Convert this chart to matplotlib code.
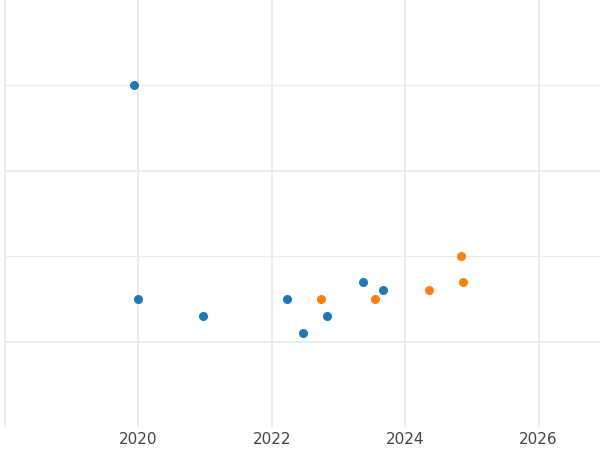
import matplotlib
matplotlib.use("Agg")
import matplotlib.pyplot as plt

blue_x = [2019.93, 2020.0, 2020.97, 2022.23, 2022.47, 2022.83, 2023.37, 2023.67]
blue_y = [4.0, 1.5, 1.3, 1.5, 1.1, 1.3, 1.7, 1.6]
orange_x = [2022.74, 2023.54, 2024.35, 2024.83, 2024.86]
orange_y = [1.5, 1.5, 1.6, 2.0, 1.7]
x_ticks = [2018, 2020, 2022, 2024, 2026]
x_labels = ["", "2020", "2022", "2024", "2026"]

fig = plt.figure(figsize=(6, 4.5), dpi=100)
ax = fig.add_axes([4/600, 23/450, 596/600, 427/450])
ax.set_xlim(2017.985, 2026.92)
ax.set_ylim(0, 5)
ax.set_xticks(x_ticks)
ax.set_xticklabels(x_labels)
ax.set_yticks([1, 3])
ax.set_yticks([0, 2, 4], minor=True)
ax.grid(True, which='major', color='#ebebeb', linewidth=1.4)
ax.grid(True, which='minor', axis='y', color='#ebebeb', linewidth=0.8)
ax.set_yticklabels([])
ax.tick_params(length=0, which='both', labelsize=11, labelcolor='#444444')
for s in ax.spines.values():
    s.set_visible(False)
ax.set_axisbelow(True)
ax.scatter(blue_x, blue_y, color='#1f77b4', s=30, zorder=3)
ax.scatter(orange_x, orange_y, color='#ff7f0e', s=30, zorder=3)
fig.savefig("out.png", dpi=100)
